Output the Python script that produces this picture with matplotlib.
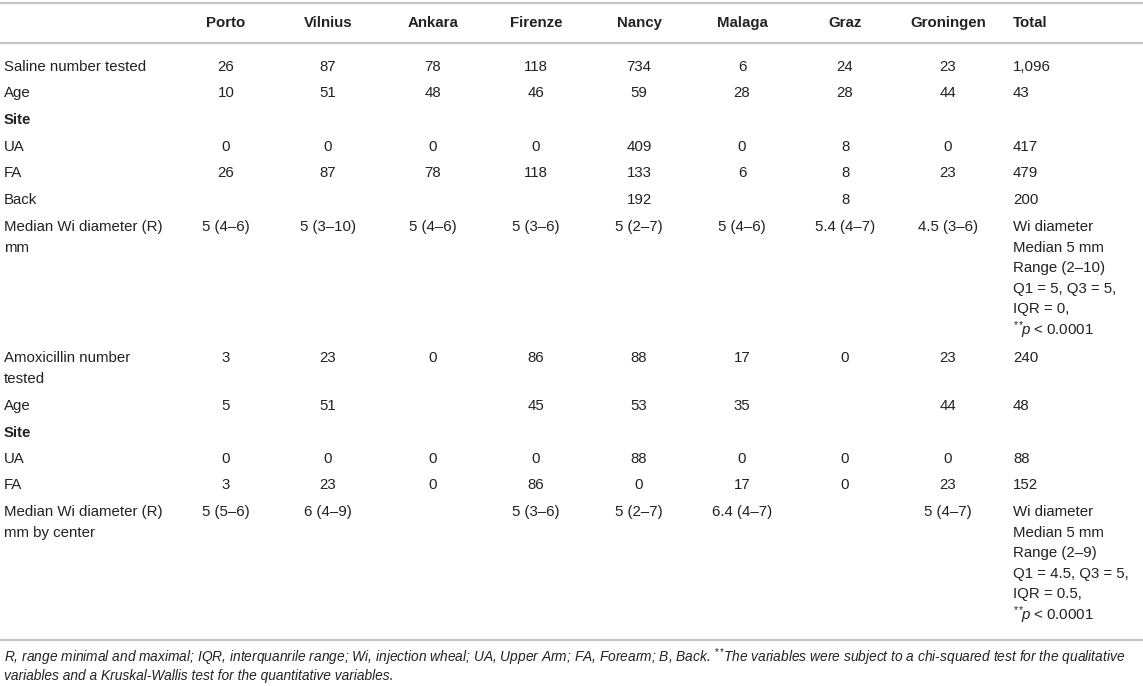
import matplotlib
matplotlib.use("Agg")
import matplotlib.pyplot as plt

plt.rcParams["font.family"] = ["Liberation Sans", "DejaVu Sans"]
plt.rcParams["mathtext.fontset"] = "custom"
plt.rcParams["mathtext.rm"] = "Liberation Sans"
plt.rcParams["mathtext.it"] = "Liberation Sans:italic"

# --- table data ---
cities = ["Porto", "Vilnius", "Ankara", "Firenze", "Nancy", "Malaga", "Graz", "Groningen"]

saline_n = ["26", "87", "78", "118", "734", "6", "24", "23"]
saline_age = ["10", "51", "48", "46", "59", "28", "28", "44"]
saline_ua = ["0", "0", "0", "0", "409", "0", "8", "0"]
saline_fa = ["26", "87", "78", "118", "133", "6", "8", "23"]
saline_back = ["", "", "", "", "192", "", "8", ""]
saline_wi = ["5 (4–6)", "5 (3–10)", "5 (4–6)", "5 (3–6)", "5 (2–7)", "5 (4–6)", "5.4 (4–7)", "4.5 (3–6)"]
saline_totals = ["1,096", "43", "417", "479", "200"]
saline_wi_total = ["Wi diameter", "Median 5 mm", "Range (2–10)", "Q1 = 5, Q3 = 5,",
                   "IQR = 0,", r"$^{**}\!\!p$ < 0.0001"]

amox_n = ["3", "23", "0", "86", "88", "17", "0", "23"]
amox_age = ["5", "51", "", "45", "53", "35", "", "44"]
amox_ua = ["0", "0", "0", "0", "88", "0", "0", "0"]
amox_fa = ["3", "23", "0", "86", "0", "17", "0", "23"]
amox_wi = ["5 (5–6)", "6 (4–9)", "", "5 (3–6)", "5 (2–7)", "6.4 (4–7)", "", "5 (4–7)"]
amox_totals = ["240", "48", "88", "152"]
amox_wi_total = ["Wi diameter", "Median 5 mm", "Range (2–9)", "Q1 = 4.5, Q3 = 5,",
                 "IQR = 0.5,", r"$^{**}\!\!p$ < 0.0001"]

footnote = ["R, range minimal and maximal; IQR, interquanrile range; Wi, injection wheal; UA, Upper Arm; FA, Forearm; B, Back. "
            r"$^{**}\!$The variables were subject to a chi-squared test for the qualitative",
            "variables and a Kruskal-Wallis test for the quantitative variables."]

# (label lines, bold, values per city, total lines, y of first line)
rows = [
    (["Saline number tested"], False, saline_n, [saline_totals[0]], 67),
    (["Age"], False, saline_age, [saline_totals[1]], 93),
    (["Site"], True, [""] * 8, [], 120),
    (["UA"], False, saline_ua, [saline_totals[2]], 147),
    (["FA"], False, saline_fa, [saline_totals[3]], 173),
    (["Back"], False, saline_back, [saline_totals[4]], 200),
    (["Median Wi diameter (R)", "mm"], False, saline_wi, saline_wi_total, 227),
    (["Amoxicillin number", "tested"], False, amox_n, [amox_totals[0]], 358),
    (["Age"], False, amox_age, [amox_totals[1]], 406),
    (["Site"], True, [""] * 8, [], 433),
    (["UA"], False, amox_ua, [amox_totals[2]], 459),
    (["FA"], False, amox_fa, [amox_totals[3]], 485),
    (["Median Wi diameter (R)", "mm by center"], False, amox_wi, amox_wi_total, 512),
]

W, H = 1143, 686
col_x = [226, 328, 433, 536, 639, 742, 845, 948]
total_x = 1013
label_x = 4
line_h = 20.6
fs = 10.8
txt = "#222222"
rule = "#c4c4c4"

fig = plt.figure(figsize=(W / 100, H / 100), dpi=100)
ax = fig.add_axes([0, 0, 1, 1])
ax.set_xlim(0, W)
ax.set_ylim(H, 0)
ax.axis("off")

# rules
for y in [3, 43, 640]:
    ax.axhline(y, color=rule, lw=1.6)

# header
for x, name in zip(col_x, cities):
    ax.text(x, 23, name, ha="center", va="center", fontsize=fs, fontweight="bold", color=txt)
ax.text(total_x, 23, "Total", ha="left", va="center", fontsize=fs, fontweight="bold", color=txt)

# body
for labels, bold, vals, totals, y0 in rows:
    for i, lab in enumerate(labels):
        ax.text(label_x, y0 + i * line_h, lab, ha="left", va="center", fontsize=fs,
                fontweight="bold" if bold else "normal", color=txt)
    for x, v in zip(col_x, vals):
        ax.text(x, y0, v, ha="center", va="center", fontsize=fs, color=txt)
    for i, t in enumerate(totals):
        ax.text(total_x, y0 + i * line_h, t, ha="left", va="center", fontsize=fs, color=txt)

# footnote, sized so the first line reaches near the right edge
renderer = fig.canvas.get_renderer()
first = ax.text(label_x, 657, footnote[0], ha="left", va="center", fontsize=10,
                style="italic", color=txt)
width = first.get_window_extent(renderer).width
fn_fs = 10 * (1130 - label_x) / width
first.set_fontsize(fn_fs)
ax.text(label_x, 676, footnote[1], ha="left", va="center", fontsize=fn_fs,
        style="italic", color=txt)

fig.savefig("out.png", dpi=100)
